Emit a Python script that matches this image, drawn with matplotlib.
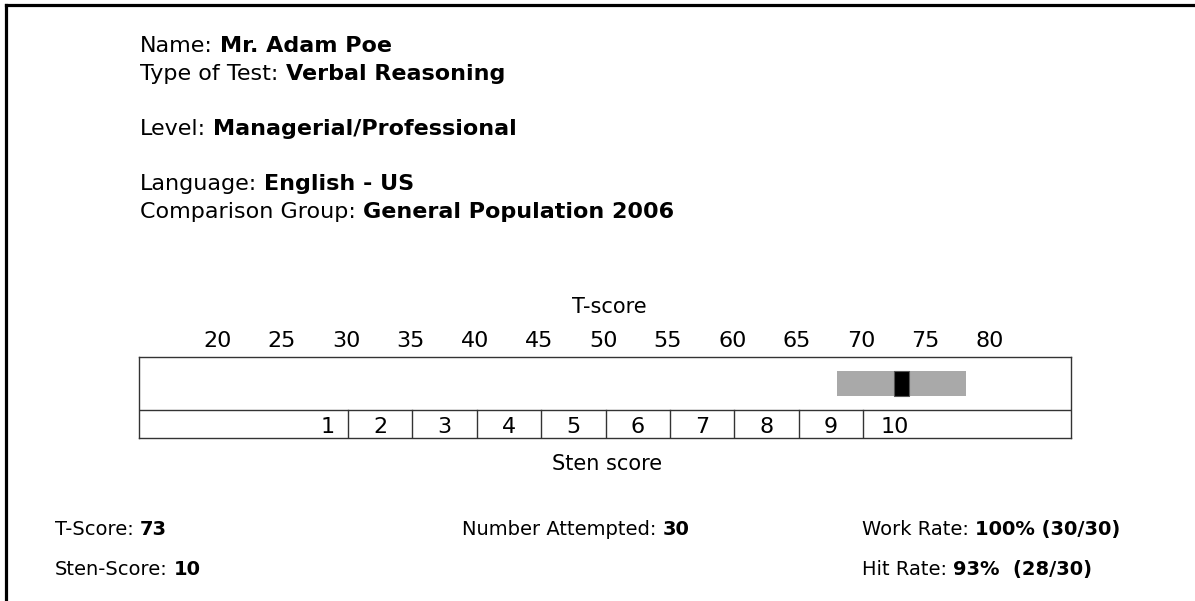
import matplotlib
matplotlib.use("Agg")
import matplotlib.pyplot as plt
from matplotlib.patches import Rectangle

W, H = 1195, 601

# report data
header_rows = [("Name:", "Mr. Adam Poe"),
               ("Type of Test:", "Verbal Reasoning"),
               ("Level:", "Managerial/Professional"),
               ("Language:", "English - US"),
               ("Comparison Group:", "General Population 2006")]
header_baselines = [52, 80, 135, 190, 218]

t_ticks = [20, 25, 30, 35, 40, 45, 50, 55, 60, 65, 70, 75, 80]
sten_bounds = [30, 35, 40, 45, 50, 55, 60, 65, 70]
sten_labels = ["1", "2", "3", "4", "5", "6", "7", "8", "9", "10"]
sten_label_pos = [28.4, 32.5, 37.5, 42.5, 47.5, 52.5, 57.5, 62.5, 67.5, 72.5]
t_score = 73
band_low, band_high = 68, 78

footer = [("T-Score:", "73", 55, 535),
          ("Sten-Score:", "10", 55, 575),
          ("Number Attempted:", "30", 462, 535),
          ("Work Rate:", "100% (30/30)", 862, 535),
          ("Hit Rate:", "93%  (28/30)", 862, 575)]

plt.rcParams['font.family'] = ['DejaVu Sans']

fig = plt.figure(figsize=(W / 100, H / 100), dpi=100)


def fx(x):
    return x / W


def fy(y):
    return 1 - y / H


def two_part(x, y, a, b, size):
    t = fig.text(fx(x), fy(y), a, fontsize=size, va='baseline', ha='left')
    fig.canvas.draw()
    bb = t.get_window_extent()
    gap = size * 0.45
    fig.text(fx(bb.x1 + gap), fy(y), b, fontsize=size, fontweight='bold',
             va='baseline', ha='left')


# page border (top + left)
fig.add_artist(plt.Line2D([fx(6.5), fx(W)], [fy(5), fy(5)], color='black', lw=2.3))
fig.add_artist(plt.Line2D([fx(6.5), fx(6.5)], [fy(5), fy(H)], color='black', lw=2.3))

for (a, b), y in zip(header_rows, header_baselines):
    two_part(140, y, a, b, 16)

# scale box
left, right, top, bottom = 139, 1070.7, 357, 438
ax = fig.add_axes([fx(left), fy(bottom), (right - left) / W, (bottom - top) / H])
x0 = 30 - (348 - left) / 12.875
x1 = 70 + (right - 863) / 12.875
ax.set_xlim(x0, x1)
ax.set_ylim(0, bottom - top)
for s in ax.spines.values():
    s.set_color('#333333')
    s.set_linewidth(1.0)
ax.set_xticks([])
ax.set_yticks([])

ax.axhline(28, color='#333333', lw=1.0)
for b in sten_bounds:
    ax.plot([b, b], [0, 28], color='#333333', lw=1.0)
for lab, p in zip(sten_labels, sten_label_pos):
    ax.text(p, 5, lab, ha='center', va='baseline', fontsize=16)

ax.add_patch(Rectangle((band_low, 42), band_high - band_low, 25, color='#a9a9a9', lw=0))
ax.add_patch(Rectangle((t_score - 0.6, 42), 1.2, 25, facecolor='black',
                       edgecolor='#555555', lw=0.8))

for t in t_ticks:
    ax.text(t - 0.15, 91, str(t), ha='center', va='baseline', fontsize=16,
            clip_on=False)
ax.text(50.3, 125, "T-score", ha='center', va='baseline', fontsize=15, clip_on=False)
fig.text(fx(607), fy(470), "Sten score", ha='center', va='baseline', fontsize=15)

for a, b, x, y in footer:
    two_part(x, y, a, b, 14)

fig.savefig("out.png", dpi=100)
